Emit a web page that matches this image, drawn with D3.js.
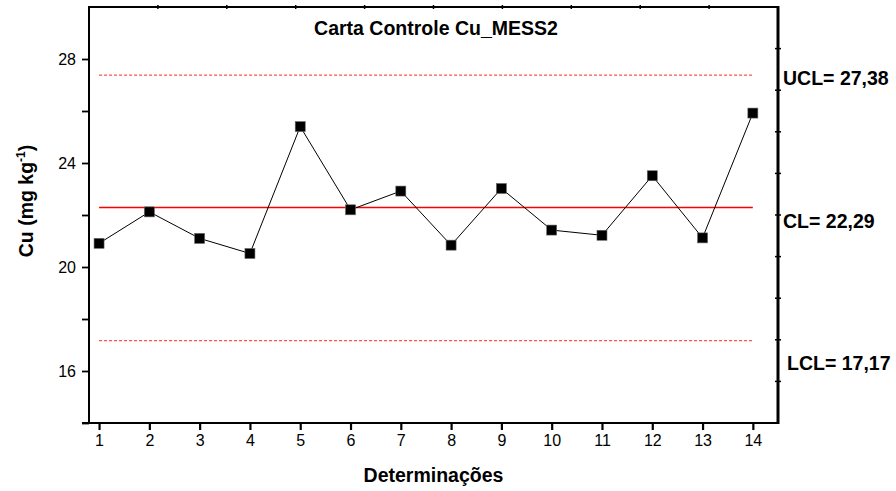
<!DOCTYPE html>
<html><head><meta charset="utf-8">
<script src="https://cdn.jsdelivr.net/npm/d3@7"></script>
<style>body{margin:0;background:#fff}svg{display:block;font-family:"Liberation Sans",Arial,sans-serif}</style>
</head><body>
<svg id="c" width="896" height="491"></svg>
<script>
const determinacoes = [1,2,3,4,5,6,7,8,9,10,11,12,13,14];
const cuValues = [20.91,22.12,21.10,20.52,25.40,22.20,22.92,20.84,23.02,21.42,21.22,23.51,21.12,25.92];
const yTickValues = [16,20,24,28];
const controlLimits = [
  {name:"UCL", value:27.38, label:"UCL= 27,38", dash:true},
  {name:"CL", value:22.29, label:"CL= 22,29", dash:false},
  {name:"LCL", value:17.17, label:"LCL= 17,17", dash:true}
];
const titleText = "Carta Controle Cu_MESS2";
const xTitle = "Determinações";

const svg = d3.select("#c");
const L = 89, R = 778, T = 7, B = 423;
const x = d3.scaleLinear().domain([0.8, 14.5]).range([L, R]);
const y = d3.scaleLinear().domain([14, 30]).range([B, T]);

const tx = d3.scaleLinear().domain([0,10]).range([L,R]);
const ry = d3.scaleLinear().domain([0,10]).range([B,T]);

// control lines
svg.selectAll(".cl").data(controlLimits).enter().append("line")
  .attr("x1", x(1)).attr("x2", x(14))
  .attr("y1", d=>y(d.value)).attr("y2", d=>y(d.value))
  .attr("stroke", d=>d.dash ? "#ff5050" : "#ff0000")
  .attr("stroke-width", 1.4)
  .attr("stroke-dasharray", d=>d.dash ? "3,2" : null);

// data line
const line = d3.line().x((d,i)=>x(determinacoes[i])).y(d=>y(d));
svg.append("path").datum(cuValues).attr("d", line)
  .attr("fill","none").attr("stroke","#000").attr("stroke-width",1);

// markers
svg.selectAll(".pt").data(cuValues).enter().append("rect")
  .attr("x",(d,i)=>x(determinacoes[i])-5).attr("y",d=>y(d)-5)
  .attr("width",10).attr("height",10)
  .attr("fill","#000").attr("stroke","#666").attr("stroke-width",0.6);

// axes
const xAxis = d3.axisBottom(x).tickValues(determinacoes).tickSize(7).tickPadding(5).tickSizeOuter(0);
const gx = svg.append("g").attr("transform",`translate(0,${B})`).call(xAxis);
gx.select(".domain").remove();
gx.selectAll(".tick line").attr("stroke","#000").attr("stroke-width",2.2);
gx.selectAll("text").attr("font-size",16).attr("fill","#000").attr("font-family","Liberation Sans, Arial, sans-serif");

const yAxis = d3.axisLeft(y).tickValues(d3.range(14,30.01,2)).tickSize(7).tickPadding(6)
  .tickFormat(d=> yTickValues.includes(d) ? d : "");
const gy = svg.append("g").attr("transform",`translate(${L},0)`).call(yAxis);
gy.select(".domain").remove();
gy.selectAll(".tick").filter(d=>d===30).remove();
gy.selectAll(".tick line").attr("stroke","#000").attr("stroke-width",1.8);
gy.selectAll("text").attr("font-size",16).attr("fill","#000").attr("font-family","Liberation Sans, Arial, sans-serif");

// top minor ticks
svg.selectAll(".tt").data(d3.range(1,10)).enter().append("line")
  .attr("x1",d=>tx(d)).attr("x2",d=>tx(d)).attr("y1",T-2).attr("y2",T+2)
  .attr("stroke","#000").attr("stroke-width",1.5);
// right minor ticks
svg.selectAll(".rt").data(d3.range(1,10)).enter().append("line")
  .attr("y1",d=>ry(d)).attr("y2",d=>ry(d)).attr("x1",R-3).attr("x2",R+3)
  .attr("stroke","#000").attr("stroke-width",1.5);

// frame
svg.append("line").attr("x1",L).attr("x2",R).attr("y1",T).attr("y2",T).attr("stroke","#000").attr("stroke-width",2);
svg.append("line").attr("x1",L-7).attr("x2",R).attr("y1",B).attr("y2",B).attr("stroke","#000").attr("stroke-width",2);
svg.append("line").attr("x1",L).attr("x2",L).attr("y1",T-1).attr("y2",B).attr("stroke","#000").attr("stroke-width",2);
svg.append("line").attr("x1",R).attr("x2",R).attr("y1",T-1).attr("y2",B+1).attr("stroke","#000").attr("stroke-width",3);

// control labels
const offs = {UCL:5, CL:15, LCL:24};
svg.selectAll(".lbl").data(controlLimits).enter().append("text")
  .attr("x", d=> d.name==="LCL" ? R+9 : R+5).attr("y", d=>y(d.value)+offs[d.name])
  .attr("dominant-baseline","middle")
  .attr("font-size",19.5).attr("font-weight","bold").text(d=>d.label);

// title
svg.append("text").attr("x",436).attr("y",35).attr("text-anchor","middle")
  .attr("font-size",19.5).attr("font-weight","bold").text(titleText);

// x title
svg.append("text").attr("x",(L+R)/2).attr("y",482).attr("text-anchor","middle")
  .attr("font-size",19.5).attr("font-weight","bold").text(xTitle);

// y title
const yt = svg.append("text").attr("transform","translate(33,201) rotate(-90)")
  .attr("text-anchor","middle").attr("font-size",19.5).attr("font-weight","bold");
yt.append("tspan").text("Cu (mg kg");
yt.append("tspan").attr("dy",-8).attr("font-size",12).text("-1");
yt.append("tspan").attr("dy",8).text(")");
</script>
</body></html>
